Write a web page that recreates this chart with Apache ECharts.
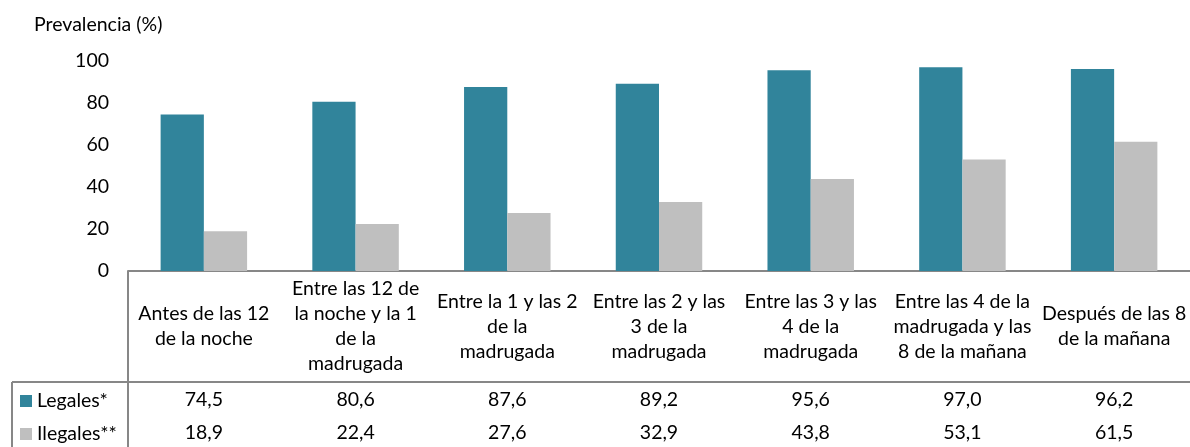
<!DOCTYPE html>
<html>
<head>
<meta charset="utf-8">
<style>
  html, body { margin: 0; padding: 0; background: #fff; }
  #chart { width: 1190px; height: 447px; }
</style>
<script src="https://cdn.jsdelivr.net/npm/echarts@6/dist/echarts.min.js"></script>
</head>
<body>
<div id="chart"></div>
<script>
// Franjas horarias (categorías del eje X)
const categories = [
  'Antes de las 12\nde la noche',
  'Entre las 12 de\nla noche y la 1\nde la\nmadrugada',
  'Entre la 1 y las 2\nde la\nmadrugada',
  'Entre las 2 y las\n3 de la\nmadrugada',
  'Entre las 3 y las\n4 de la\nmadrugada',
  'Entre las 4 de la\nmadrugada y las\n8 de la mañana',
  'Después de las 8\nde la mañana'
];
// Prevalencia (%) por tipo de sustancia
const legales = [74.5, 80.6, 87.6, 89.2, 95.6, 97.0, 96.2];
const ilegales = [18.9, 22.4, 27.6, 32.9, 43.8, 53.1, 61.5];
const yTicks = [0, 20, 40, 60, 80, 100];

const FONT = 'Lato, "Noto Sans", sans-serif';
const FS = 19.5;
const TEXT = '#000';
const LINE = '#878787';
const fmt = v => v.toFixed(1).replace('.', ',');

// Geometría de la zona de gráfico y de la tabla de datos
const gridLeft = 128, gridTop = 61, gridHeight = 210, gridWidth = 1064;
const axisY = gridTop + gridHeight;      // línea del eje X / borde superior de la tabla
const headerBottom = 382;                // separación entre cabecera y filas de datos
const row1 = 400, row2 = 433;            // centros de las filas de datos
const tableLeft = 12;

const chart = echarts.init(document.getElementById('chart'), null, { renderer: 'canvas' });

const rowAxis = (values, y) => ({
  type: 'category',
  gridIndex: 0,
  position: 'bottom',
  data: values.map(fmt),
  axisLine: { show: false },
  axisTick: { show: false },
  axisLabel: {
    interval: 0,
    margin: y - axisY,
    verticalAlign: 'middle',
    color: TEXT,
    fontFamily: FONT,
    fontSize: FS
  }
});

chart.setOption({
  animation: false,
  textStyle: { fontFamily: FONT },
  title: {
    text: 'Prevalencia (%)',
    left: 34,
    top: 15,
    padding: 0,
    textStyle: { fontFamily: FONT, fontSize: FS, fontWeight: 'normal', color: TEXT }
  },
  legend: {
    orient: 'vertical',
    left: 20,
    top: row1 - 9,
    padding: 0,
    itemWidth: 12,
    itemHeight: 12,
    itemGap: 13,
    icon: 'rect',
    selectedMode: false,
    textStyle: { fontFamily: FONT, fontSize: FS, color: TEXT, lineHeight: 18 },
    data: ['Legales*', 'Ilegales**']
  },
  grid: { left: gridLeft, top: gridTop, width: gridWidth, height: gridHeight, containLabel: false },
  xAxis: [
    {
      type: 'category',
      data: categories,
      axisLine: { show: true, lineStyle: { color: LINE, width: 2 } },
      axisTick: { show: false },
      axisLabel: {
        interval: 0,
        margin: (headerBottom - axisY) / 2,
        verticalAlign: 'middle',
        align: 'center',
        lineHeight: 25,
        color: TEXT,
        fontFamily: FONT,
        fontSize: FS
      }
    },
    rowAxis(legales, row1),
    rowAxis(ilegales, row2)
  ],
  yAxis: {
    type: 'value',
    min: yTicks[0],
    max: yTicks[yTicks.length - 1],
    interval: yTicks[1] - yTicks[0],
    axisLine: { show: false },
    axisTick: { show: false },
    splitLine: { show: false },
    axisLabel: { margin: 19, color: TEXT, fontFamily: FONT, fontSize: FS }
  },
  series: [
    {
      name: 'Legales*',
      type: 'bar',
      data: legales,
      barGap: '0%',
      barCategoryGap: '43%',
      itemStyle: { color: '#31849B' }
    },
    {
      name: 'Ilegales**',
      type: 'bar',
      data: ilegales,
      barGap: '0%',
      barCategoryGap: '43%',
      itemStyle: { color: '#BFBFBF' }
    }
  ],
  graphic: [
    // Borde izquierdo de la cabecera de la tabla
    { type: 'line', shape: { x1: gridLeft, y1: axisY, x2: gridLeft, y2: 447 },
      style: { stroke: LINE, lineWidth: 2 } },
    // Línea bajo la cabecera de categorías
    { type: 'line', shape: { x1: tableLeft, y1: headerBottom, x2: 1190, y2: headerBottom },
      style: { stroke: LINE, lineWidth: 2 } },
    // Borde izquierdo de la columna de leyenda
    { type: 'line', shape: { x1: tableLeft, y1: headerBottom, x2: tableLeft, y2: 447 },
      style: { stroke: LINE, lineWidth: 2 } }
  ]
});
</script>
</body>
</html>
